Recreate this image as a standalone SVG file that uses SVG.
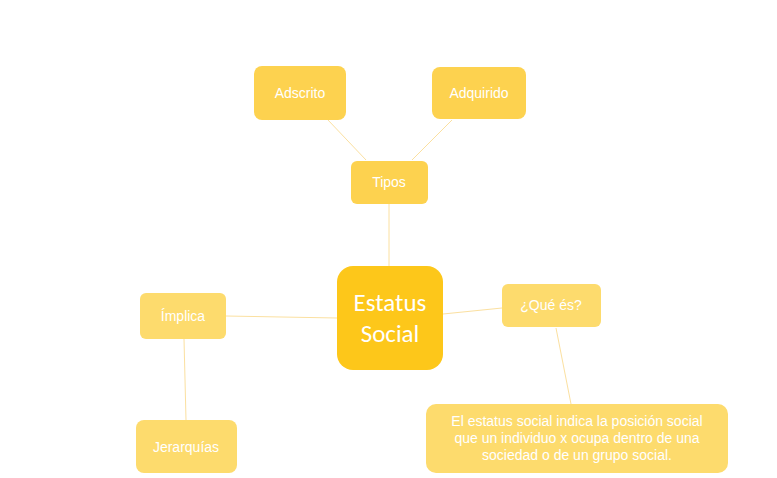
<svg xmlns="http://www.w3.org/2000/svg" width="777" height="478" viewBox="0 0 777 478">
<style>
.n{fill:#fdd24f}
.l{fill:#fddb6d}
.t{font-family:"Liberation Sans",Arial,sans-serif;font-size:14px;fill:#fff;text-anchor:middle}
.c line{stroke:#fbe0a0;stroke-width:1}
</style>
<rect width="777" height="478" fill="#fff"/>
<g class="c">
<line x1="389" y1="204" x2="389" y2="266"/>
<line x1="366" y1="160" x2="328" y2="120"/>
<line x1="412" y1="160" x2="452" y2="120"/>
<line x1="226" y1="316" x2="337" y2="318"/>
<line x1="443" y1="314" x2="502" y2="308"/>
<line x1="556" y1="328" x2="571" y2="404"/>
<line x1="184" y1="339" x2="186" y2="420"/>
</g>
<g id="central"><rect x="337" y="266" width="106" height="104" rx="16" fill="#fdc71a"/>
<text class="t" x="390" y="311" style="font-family:Carlito,'Open Sans',sans-serif;font-size:25px">Estatus</text>
<text class="t" x="390" y="342" style="font-family:Carlito,'Open Sans',sans-serif;font-size:25px">Social</text></g>
<g id="tipos"><rect class="n" x="351" y="161" width="77" height="43" rx="6"/><text class="t" x="389" y="187">Tipos</text></g>
<g id="adscrito"><rect class="n" x="254" y="66" width="92" height="54" rx="8"/><text class="t" x="300" y="98">Adscrito</text></g>
<g id="adquirido"><rect class="n" x="432" y="67" width="94" height="52" rx="8"/><text class="t" x="479" y="98">Adquirido</text></g>
<g id="implica"><rect class="l" x="140" y="293" width="86" height="46" rx="6"/><text class="t" x="183" y="321">Ímplica</text></g>
<g id="jerarquias"><rect class="l" x="136" y="420" width="101" height="53" rx="8"/><text class="t" x="186" y="452">Jerarquías</text></g>
<g id="quees"><rect class="l" x="502" y="284" width="99" height="43" rx="6"/><text class="t" x="551" y="310">¿Qué és?</text></g>
<g id="def"><rect class="l" x="426" y="404" width="302" height="69" rx="10"/>
<text class="t" x="577" y="426">El estatus social indica la posición social</text>
<text class="t" x="577" y="443">que un individuo x ocupa dentro de una</text>
<text class="t" x="577" y="460">sociedad o de un grupo social.</text></g>
</svg>
